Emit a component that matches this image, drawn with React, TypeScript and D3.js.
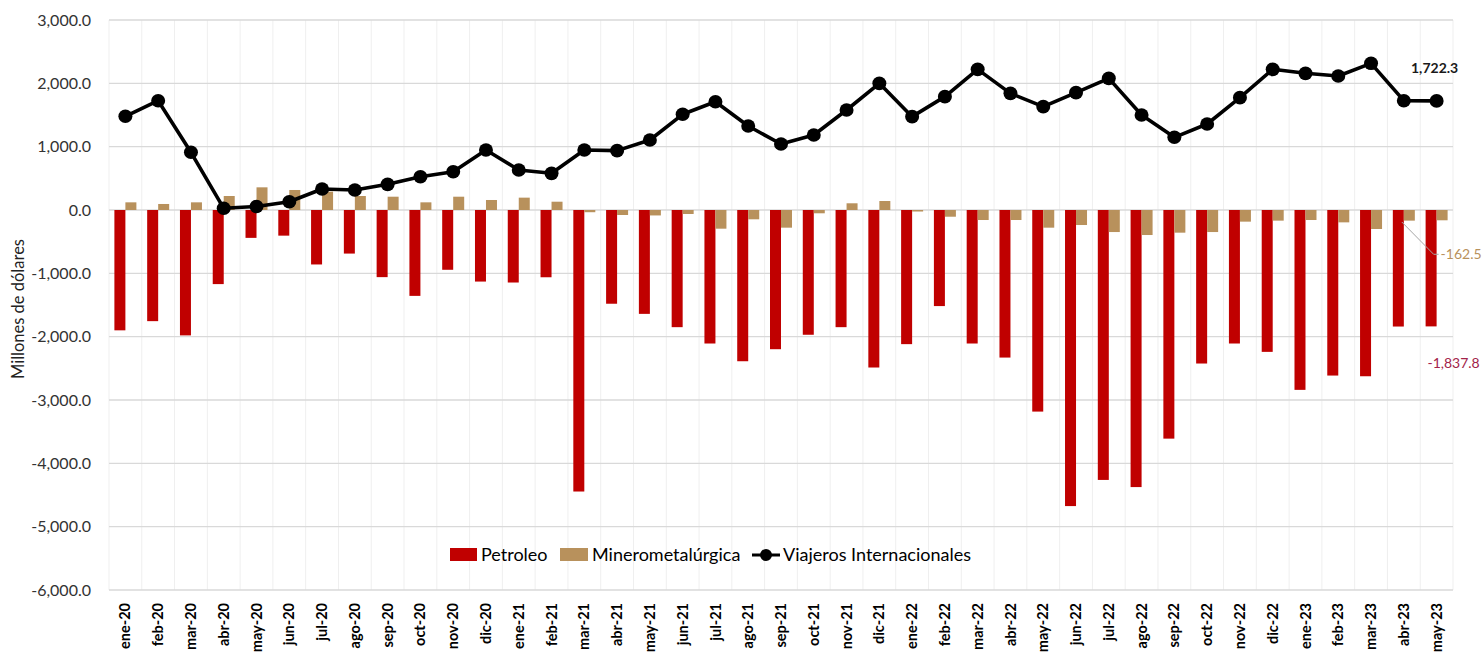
import React from 'react';
import * as d3 from 'd3';

const meses = [
  'ene-20', 'feb-20', 'mar-20', 'abr-20', 'may-20', 'jun-20', 'jul-20', 'ago-20', 'sep-20', 'oct-20', 'nov-20', 'dic-20',
  'ene-21', 'feb-21', 'mar-21', 'abr-21', 'may-21', 'jun-21', 'jul-21', 'ago-21', 'sep-21', 'oct-21', 'nov-21', 'dic-21',
  'ene-22', 'feb-22', 'mar-22', 'abr-22', 'may-22', 'jun-22', 'jul-22', 'ago-22', 'sep-22', 'oct-22', 'nov-22', 'dic-22',
  'ene-23', 'feb-23', 'mar-23', 'abr-23', 'may-23',
];

const petroleo = [
  -1900, -1755, -1980, -1170, -440, -405, -860, -688, -1060, -1356, -944, -1130,
  -1145, -1062, -4445, -1480, -1640, -1850, -2108, -2388, -2198, -1970, -1850, -2487,
  -2118, -1517, -2108, -2330, -3183, -4675, -4262, -4375, -3610, -2424, -2108, -2240,
  -2840, -2614, -2625, -1840, -1837.8,
];

const minero = [
  121, 95, 121, 221, 358, 316, 290, 221, 210, 121, 210, 158,
  195, 131, -35, -79, -86, -63, -295, -147, -279, -52, 106, 142,
  -24, -106, -158, -158, -279, -237, -348, -395, -358, -348, -184, -168,
  -158, -195, -300, -168, -162.5,
];

const viajeros = [
  1480, 1726, 911, 27, 55, 131, 331, 316, 405, 526, 605, 947,
  632, 579, 947, 937, 1105, 1511, 1710, 1326, 1042, 1184, 1579, 2000,
  1474, 1790, 2221, 1842, 1632, 1853, 2079, 1500, 1148, 1358, 1774, 2221,
  2158, 2116, 2316, 1726, 1722.3,
];

const yTicks = [3000, 2000, 1000, 0, -1000, -2000, -3000, -4000, -5000, -6000];

const W = 1483;
const H = 660;
const ROJO = '#c00000';
const TAN = '#b8915c';
const FONT = 'Lato, "Open Sans", sans-serif';

const fmt = d3.formatLocale({
  decimal: '.', thousands: ',', grouping: [3], currency: ['$', ''], minus: '-',
}).format(',.1f');

export default function App() {
  const x = d3.scaleBand().domain(meses).range([109, 1453]).padding(0);
  const y = d3.scaleLinear().domain([-6000, 3000]).range([590, 20]);
  const serie = d3.scaleBand().domain(['p', 'm']).range([0, 22]).padding(0);
  const cx = (m: string) => (x(m) as number) + x.bandwidth() / 2;

  const linea = d3.line<number>()
    .x((_, i) => cx(meses[i]))
    .y((v) => y(v));

  const last = meses.length - 1;
  const lx = cx(meses[last]);

  return (
    <svg width={W} height={H} style={{ position: 'absolute', left: 0, top: 0, background: '#fff' }} fontFamily={FONT}>
      {/* vertical grid */}
      {meses.concat(['__end']).map((m, i) => {
        const xx = i < meses.length ? (x(m) as number) : x.range()[1];
        return <line key={'v' + i} x1={xx} x2={xx} y1={y(3000)} y2={y(-6000)} stroke="#efefef" strokeWidth={1} />;
      })}
      {/* horizontal grid */}
      {yTicks.map((t) => (
        <g key={t}>
          <line x1={109} x2={1453} y1={y(t)} y2={y(t)} stroke="#d9d9d9" strokeWidth={1.3} />
          <text x={91} y={y(t)} dy="0.35em" textAnchor="end" fontSize={16} fill="#333">{fmt(t)}</text>
        </g>
      ))}

      {/* bars */}
      {meses.map((m, i) => {
        const x0 = cx(m) - 11;
        return (
          <g key={'b' + m}>
            <rect x={x0 + (serie('p') as number)} width={serie.bandwidth()}
              y={Math.min(y(0), y(petroleo[i]))} height={Math.abs(y(petroleo[i]) - y(0))} fill={ROJO} />
            <rect x={x0 + (serie('m') as number)} width={serie.bandwidth()}
              y={Math.min(y(0), y(minero[i]))} height={Math.abs(y(minero[i]) - y(0))} fill={TAN} />
          </g>
        );
      })}

      {/* line */}
      <path d={linea(viajeros) as string} fill="none" stroke="#000" strokeWidth={3.6} strokeLinejoin="round" />
      {viajeros.map((v, i) => (
        <ellipse key={'c' + i} cx={cx(meses[i])} cy={y(v)} rx={7} ry={6.8} fill="#000" />
      ))}

      {/* data labels */}
      <text x={lx - 2} y={y(viajeros[last]) - 28} textAnchor="middle" fontSize={14} fontWeight={700} fill="#1a1a1a">
        {fmt(viajeros[last])}
      </text>
      <polyline points={`${cx(meses[last - 1]) - 2},${y(0) + 12} ${lx - 3},${y(minero[last]) + 34} ${lx + 2},${y(minero[last]) + 34}`}
        fill="none" stroke="#a6a6a6" strokeWidth={1} />
      <text x={lx + 4} y={y(minero[last]) + 34} dy="0.35em" fontSize={14} fill={TAN}>{fmt(minero[last])}</text>
      <text x={lx + 17} y={y(petroleo[last]) + 37} dy="0.35em" textAnchor="middle" fontSize={14} fill="#a3234a">
        {fmt(petroleo[last])}
      </text>

      {/* x labels */}
      {meses.map((m) => (
        <text key={'x' + m} transform={`translate(${cx(m)},603) rotate(-90)`} dy="0.35em" textAnchor="end"
          fontSize={14.5} fontWeight={700} fill="#000">{m}</text>
      ))}

      {/* y title */}
      <text transform="translate(18,309) rotate(-90)" dy="0.35em" textAnchor="middle" fontSize={16.5} fill="#222">
        Millones de dólares
      </text>

      {/* legend */}
      <g fontSize={18} fill="#000">
        <rect x={450} y={548} width={27} height={13} fill={ROJO} />
        <text x={481} y={555} dy="0.35em">Petroleo</text>
        <rect x={560} y={548} width={28} height={13} fill={TAN} />
        <text x={592} y={555} dy="0.35em">Minerometalúrgica</text>
        <line x1={752} x2={780} y1={555} y2={555} stroke="#000" strokeWidth={3} />
        <circle cx={766} cy={555} r={6} fill="#000" />
        <text x={783} y={555} dy="0.35em">Viajeros Internacionales</text>
      </g>
    </svg>
  );
}
